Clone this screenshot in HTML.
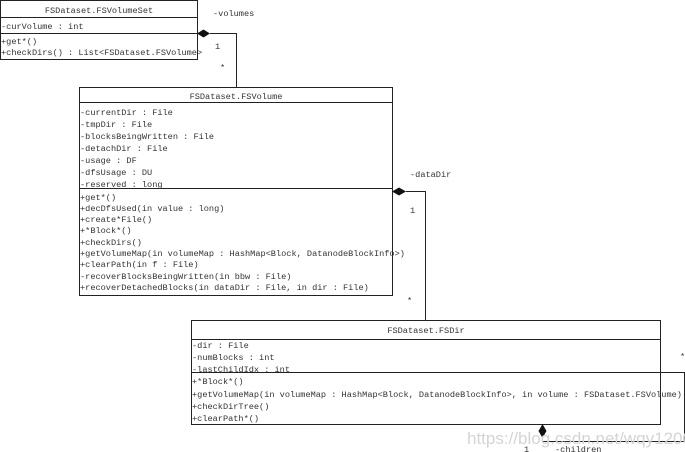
<!DOCTYPE html>
<html><head><meta charset="utf-8"><style>
html,body{margin:0;padding:0;background:#fff;width:685px;height:452px;overflow:hidden}
text{font-family:"Liberation Mono",monospace;font-size:8.6px;fill:#333}
</style></head><body>
<svg width="685" height="452" viewBox="0 0 685 452" xmlns="http://www.w3.org/2000/svg">
<g fill="#fff" stroke="#222" stroke-width="1">
<rect x="0.5" y="0.5" width="197" height="59"/>
<line x1="0" y1="17.5" x2="198" y2="17.5"/>
<line x1="0" y1="33.5" x2="198" y2="33.5"/>
<rect x="79.5" y="87.5" width="313" height="208"/>
<line x1="79" y1="102.5" x2="393" y2="102.5"/>
<line x1="79" y1="188.5" x2="393" y2="188.5"/>
<rect x="191.5" y="320.5" width="469" height="104"/>
<line x1="191" y1="339.5" x2="661" y2="339.5"/>
<line x1="191" y1="372.5" x2="661" y2="372.5"/>
</g>
<g fill="none" stroke="#222" stroke-width="1">
<polyline points="210,33.5 236.5,33.5 236.5,87"/>
<polyline points="406,191.5 425.5,191.5 425.5,320"/>
<polyline points="661,372.5 684.5,372.5 684.5,441.5 542.5,441.5 542.5,438"/>
</g>
<g fill="#111">
<polygon points="197,33.5 203.5,29.5 210,33.5 203.5,37.5"/>
<polygon points="392,191.5 399,187.5 406,191.5 399,195.5"/>
<polygon points="542.5,424 546.5,431 542.5,438 538.5,431"/>
</g>
<text x="467" y="444" style="font-family:'Liberation Sans',sans-serif;font-size:17px;fill:#d4d4d4">https://blog.csdn.net/wqy1200</text>
<text x="99" y="13" text-anchor="middle">FSDataset.FSVolumeSet</text>
<text x="1" y="29">-curVolume : int</text>
<text x="1" y="44">+get*()</text>
<text x="1" y="55">+checkDirs() : List&lt;FSDataset.FSVolume&gt;</text>
<text x="213" y="16">-volumes</text>
<text x="215" y="49">1</text>
<text x="220" y="70">*</text>
<text x="236" y="99" text-anchor="middle">FSDataset.FSVolume</text>
<text x="80" y="115">-currentDir : File</text>
<text x="80" y="127">-tmpDir : File</text>
<text x="80" y="139">-blocksBeingWritten : File</text>
<text x="80" y="151">-detachDir : File</text>
<text x="80" y="163">-usage : DF</text>
<text x="80" y="175">-dfsUsage : DU</text>
<text x="80" y="187">-reserved : long</text>
<text x="80" y="200">+get*()</text>
<text x="80" y="211">+decDfsUsed(in value : long)</text>
<text x="80" y="222">+create*File()</text>
<text x="80" y="233">+*Block*()</text>
<text x="80" y="245">+checkDirs()</text>
<text x="80" y="256">+getVolumeMap(in volumeMap : HashMap&lt;Block, DatanodeBlockInfo&gt;)</text>
<text x="80" y="267">+clearPath(in f : File)</text>
<text x="80" y="279">-recoverBlocksBeingWritten(in bbw : File)</text>
<text x="80" y="290">+recoverDetachedBlocks(in dataDir : File, in dir : File)</text>
<text x="410" y="177">-dataDir</text>
<text x="410" y="213">1</text>
<text x="407" y="303">*</text>
<text x="426" y="333" text-anchor="middle">FSDataset.FSDir</text>
<text x="192" y="348">-dir : File</text>
<text x="192" y="360">-numBlocks : int</text>
<text x="192" y="372">-lastChildIdx : int</text>
<text x="192" y="384">+*Block*()</text>
<text x="192" y="397">+getVolumeMap(in volumeMap : HashMap&lt;Block, DatanodeBlockInfo&gt;, in volume : FSDataset.FSVolume)</text>
<text x="192" y="409">+checkDirTree()</text>
<text x="192" y="421">+clearPath*()</text>
<text x="680" y="359">*</text>
<text x="524" y="452">1</text>
<text x="555" y="452">-children</text>
</svg>
</body></html>
